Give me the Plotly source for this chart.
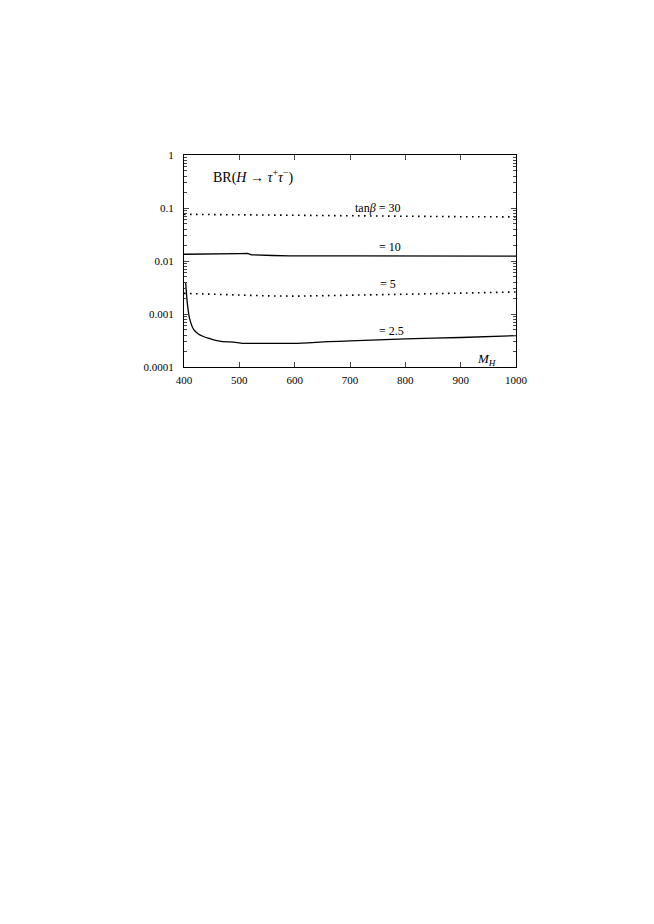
import plotly.graph_objects as go

# tan(beta) = 30 (dotted)
mh_30 = [400, 500, 600, 700, 800, 900, 1000]
br_30 = [0.076, 0.074, 0.072, 0.070, 0.069, 0.0685, 0.068]

# tan(beta) = 10 (solid)
mh_10 = [400, 450, 480, 500, 515, 522, 560, 590, 700, 800, 900, 1000]
br_10 = [0.0134, 0.0134, 0.0135, 0.0138, 0.0139, 0.0131, 0.0127, 0.0125, 0.0125, 0.0124, 0.0124, 0.0124]

# tan(beta) = 5 (dotted)
mh_5 = [400, 450, 500, 550, 600, 650, 700, 800, 900, 1000]
br_5 = [0.00245, 0.00235, 0.00226, 0.00220, 0.00217, 0.00220, 0.00226, 0.00236, 0.00248, 0.0026]

# tan(beta) = 2.5 (solid)
mh_25 = [403, 406, 410, 418, 426, 434, 444, 452, 462, 470, 490, 506, 550, 600, 660, 700, 800, 900, 1000]
br_25 = [0.0039, 0.0016, 0.00083, 0.0005, 0.00042, 0.00038, 0.00035, 0.00033, 0.00031, 0.00030, 0.000295, 0.00028, 0.00028, 0.00028, 0.00030, 0.00031, 0.00034, 0.00036, 0.00039]

x_ticks = [400, 500, 600, 700, 800, 900, 1000]
y_ticks = [0.0001, 0.001, 0.01, 0.1, 1]
y_tick_labels = ["0.0001", "0.001", "0.01", "0.1", "1"]

FONT = "Liberation Serif, DejaVu Serif, serif"

fig = go.Figure()
fig.add_trace(go.Scatter(x=mh_30, y=br_30, mode="lines",
                         line=dict(color="black", width=1.6, dash="1.6px,4.4px")))
fig.add_trace(go.Scatter(x=mh_10, y=br_10, mode="lines",
                         line=dict(color="black", width=1.3)))
fig.add_trace(go.Scatter(x=mh_5, y=br_5, mode="lines",
                         line=dict(color="black", width=1.6, dash="1.6px,4.4px")))
fig.add_trace(go.Scatter(x=mh_25, y=br_25, mode="lines", line_shape="spline",
                         line=dict(color="black", width=1.3, smoothing=0.6)))

fig.update_layout(
    width=654, height=924,
    margin=dict(l=176, r=146, t=147, b=565),
    paper_bgcolor="white", plot_bgcolor="white",
    showlegend=False,
    font=dict(family=FONT, size=11, color="black"),
    xaxis=dict(range=[400, 1000], tickvals=x_ticks, ticks="inside", ticklen=5,
               mirror="ticks", showline=True, linecolor="black", linewidth=1,
               showgrid=False, zeroline=False, ticklabelstandoff=3,
               tickfont=dict(family=FONT, size=11)),
    yaxis=dict(type="log", range=[-4, 0], tickvals=y_ticks, ticktext=y_tick_labels,
               ticks="inside", ticklen=5, mirror="ticks", showline=True,
               linecolor="black", linewidth=1, showgrid=False, zeroline=False,
               ticklabelstandoff=7, tickfont=dict(family=FONT, size=11),
               minor=dict(ticks="inside", ticklen=3, showgrid=False,
                          tickvals=[m * 10 ** e for e in range(-4, 0) for m in range(2, 10)])),
)

ann = [
    dict(x=449, y=-0.40, text="BR(<i>H</i> → <i>τ</i><sup>+</sup><i>τ</i><sup>−</sup>)", xanchor="left", size=14),
    dict(x=749, y=-1.0, text="tan<i>β</i> = 30", xanchor="center", size=12),
    dict(x=772, y=-1.73, text="= 10", xanchor="center", size=12),
    dict(x=768, y=-2.43, text="= 5", xanchor="center", size=12),
    dict(x=775, y=-3.32, text="= 2.5", xanchor="center", size=12),
    dict(x=946, y=-3.85, text="<i>M<sub>H</sub></i>", xanchor="center", size=13),
]
for a in ann:
    size = a.pop("size")
    fig.add_annotation(xref="x", yref="y", showarrow=False, yanchor="middle",
                       font=dict(family=FONT, size=size, color="black"), **a)

fig.write_html("out.html")
